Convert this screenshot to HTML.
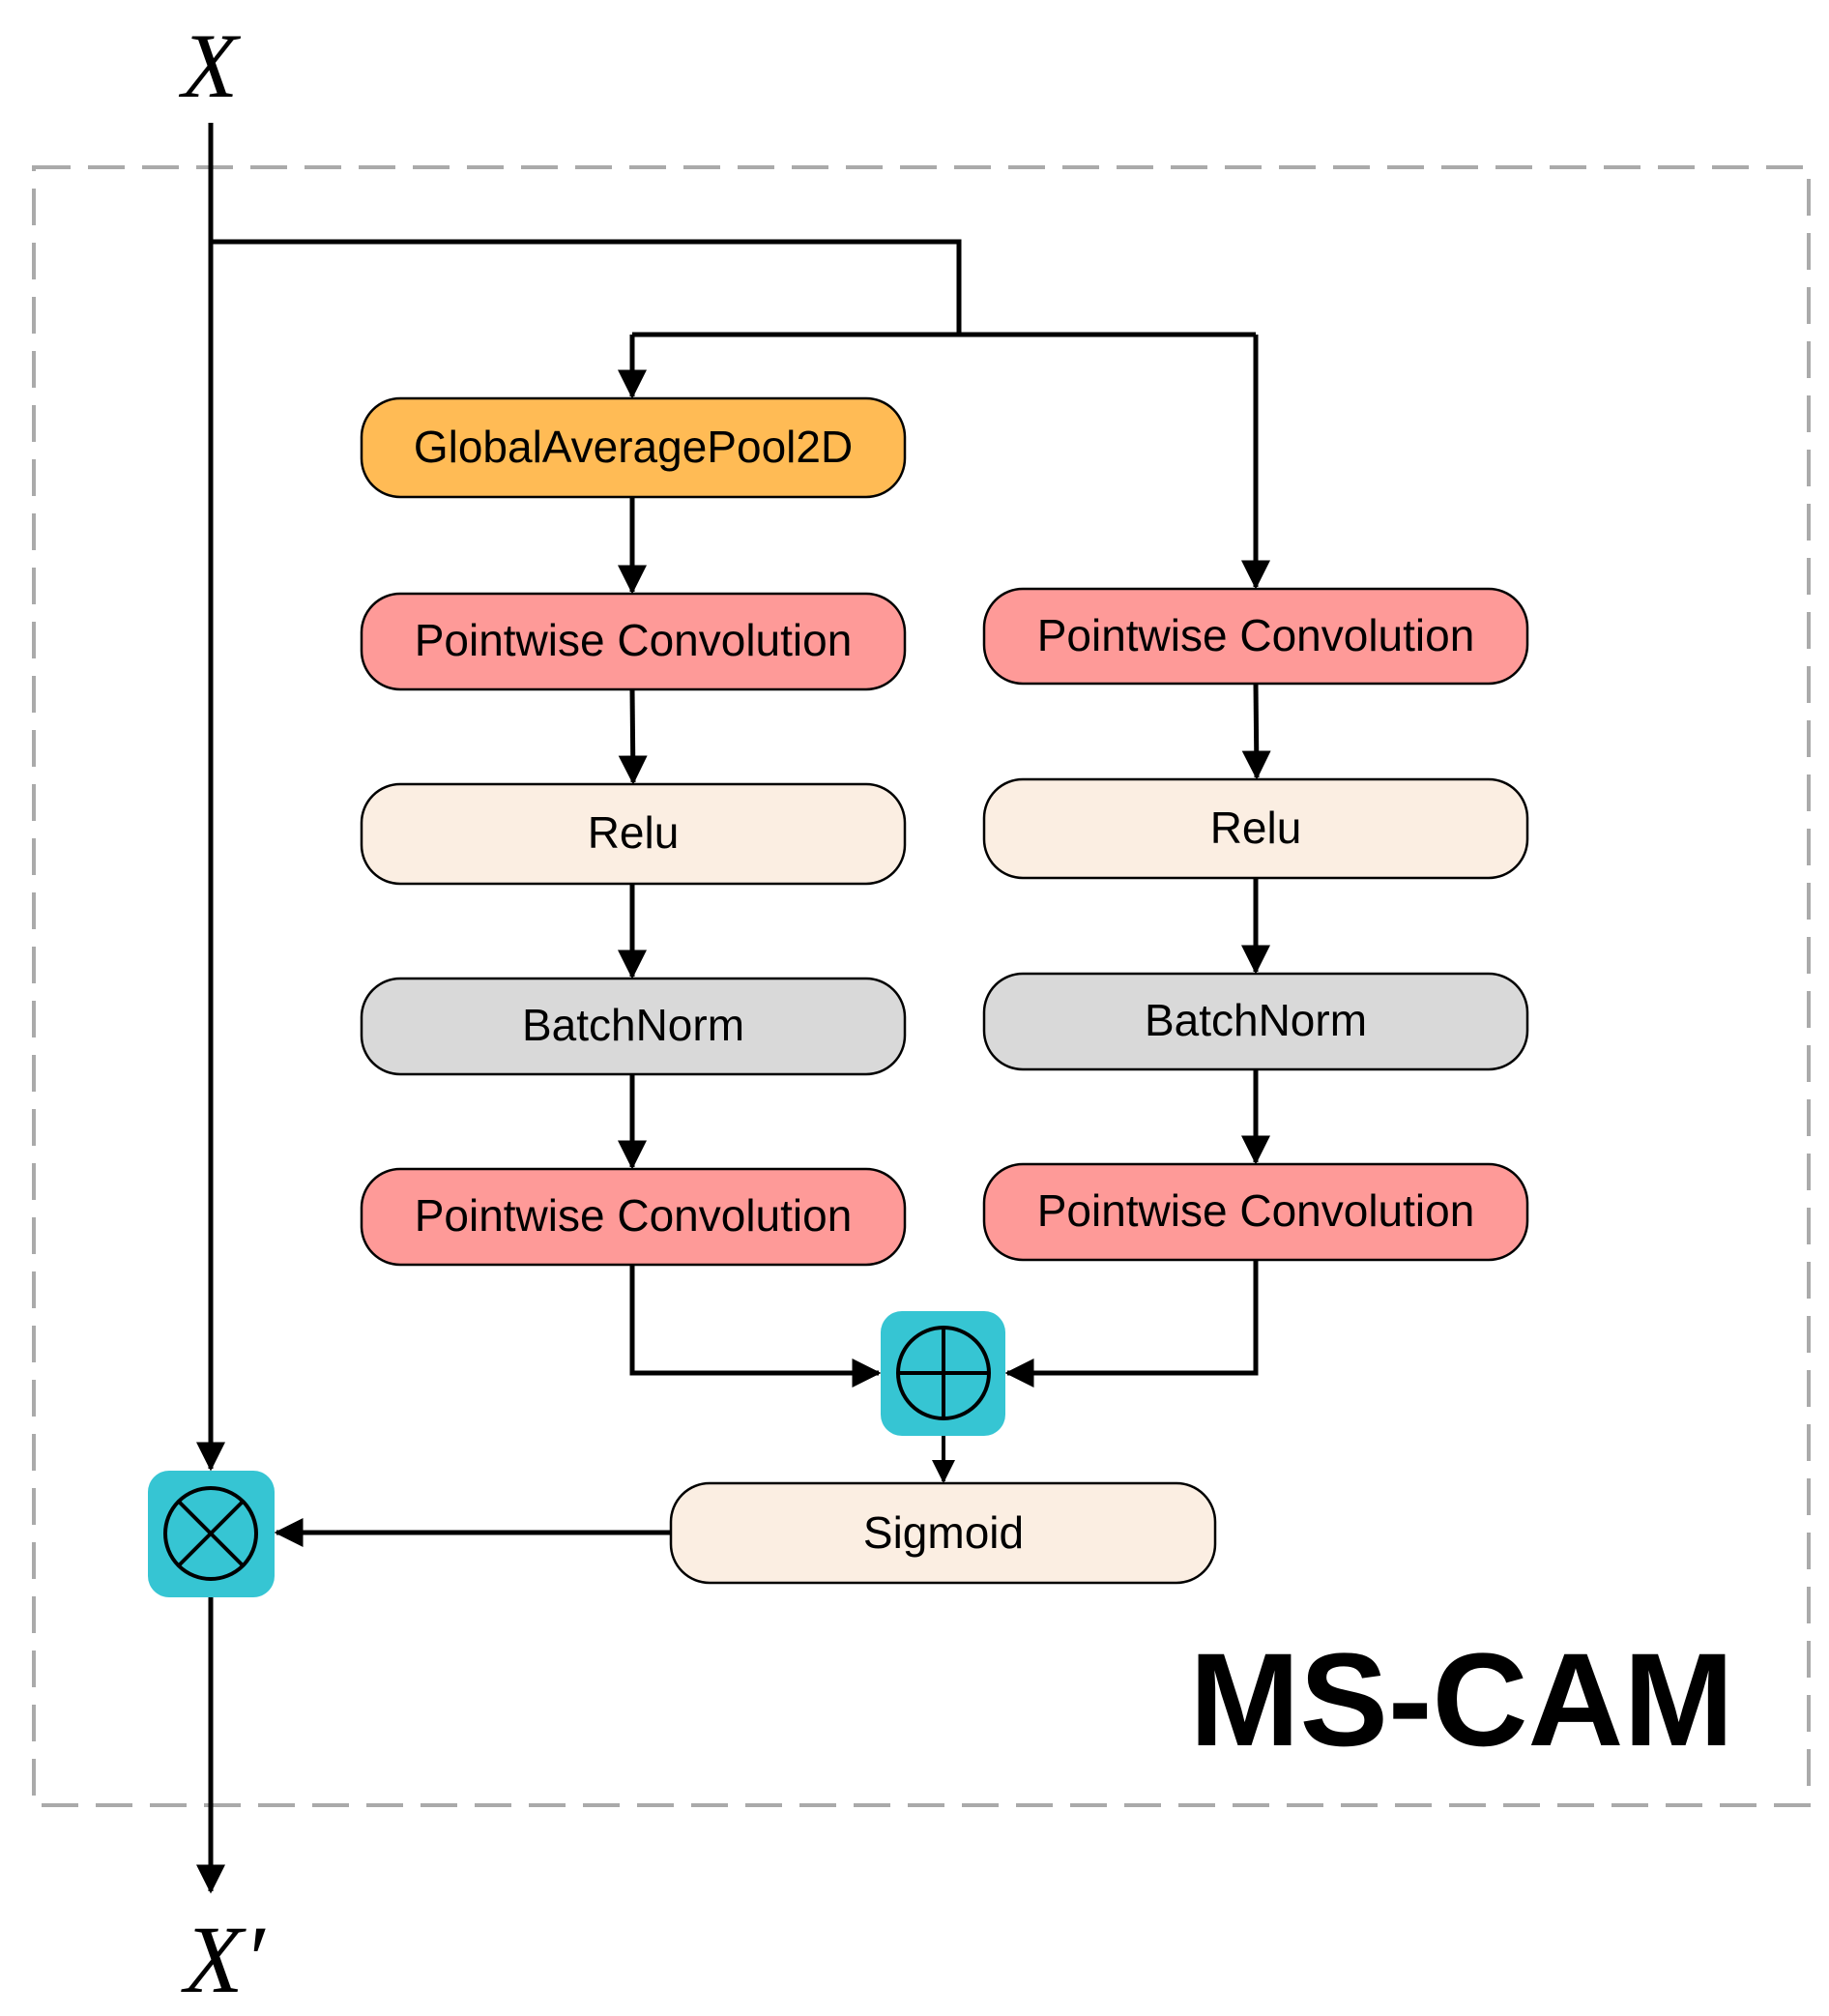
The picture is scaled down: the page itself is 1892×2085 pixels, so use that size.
<!DOCTYPE html>
<html><head><meta charset="utf-8"><style>html,body{margin:0;padding:0;background:#fff}svg{display:block}</style></head>
<body>
<svg width="1892" height="2085" viewBox="0 0 1892 2085" xmlns="http://www.w3.org/2000/svg">
<defs>
<marker id="a" markerWidth="6" markerHeight="6" refX="5.5" refY="3" orient="auto" markerUnits="strokeWidth">
<path d="M0,0 L6,3 L0,6 z" fill="#000"/>
</marker>
</defs>
<rect x="35" y="173" width="1836" height="1694" fill="none" stroke="#aaa" stroke-width="4" stroke-dasharray="38,18"/>
<text x="217" y="100" font-family="Liberation Serif, serif" font-style="italic" font-size="95" text-anchor="middle">X</text>
<text x="232" y="2060" font-family="Liberation Serif, serif" font-style="italic" font-size="100" text-anchor="middle">X′</text>
<g stroke="#000" stroke-width="5" fill="none">
<line x1="218" y1="127" x2="218" y2="1519" marker-end="url(#a)"/>
<line x1="218" y1="1652" x2="218" y2="1956" marker-end="url(#a)"/>
<polyline points="218,250 992,250 992,346"/>
<polyline points="654,346 1299,346"/>
<line x1="654" y1="346" x2="654" y2="410" marker-end="url(#a)"/>
<line x1="1299" y1="346" x2="1299" y2="607" marker-end="url(#a)"/>
<line x1="654" y1="514" x2="654" y2="612" marker-end="url(#a)"/>
<line x1="654" y1="713" x2="655" y2="809" marker-end="url(#a)"/>
<line x1="654" y1="914" x2="654" y2="1010" marker-end="url(#a)"/>
<line x1="654" y1="1111" x2="654" y2="1207" marker-end="url(#a)"/>
<line x1="1299" y1="707" x2="1300" y2="804" marker-end="url(#a)"/>
<line x1="1299" y1="908" x2="1299" y2="1005" marker-end="url(#a)"/>
<line x1="1299" y1="1106" x2="1299" y2="1202" marker-end="url(#a)"/>
<polyline points="654,1308 654,1420 909,1420" marker-end="url(#a)"/>
<polyline points="1299,1303 1299,1420 1042,1420" marker-end="url(#a)"/>
<line x1="976" y1="1485" x2="976" y2="1532" stroke-width="4" marker-end="url(#a)"/>
<line x1="694" y1="1585" x2="286" y2="1585" marker-end="url(#a)"/>
</g>
<g stroke="#000" stroke-width="2.5" font-family="Liberation Sans, sans-serif" font-size="46" text-anchor="middle">
<rect x="374" y="412" width="562" height="102" rx="40" fill="#ffbb55"/>
<rect x="374" y="614" width="562" height="99" rx="40" fill="#fe9a98"/>
<rect x="374" y="811" width="562" height="103" rx="40" fill="#fbeee2"/>
<rect x="374" y="1012" width="562" height="99" rx="40" fill="#d9d9d9"/>
<rect x="374" y="1209" width="562" height="99" rx="40" fill="#fe9a98"/>
<rect x="1018" y="609" width="562" height="98" rx="40" fill="#fe9a98"/>
<rect x="1018" y="806" width="562" height="102" rx="40" fill="#fbeee2"/>
<rect x="1018" y="1007" width="562" height="99" rx="40" fill="#d9d9d9"/>
<rect x="1018" y="1204" width="562" height="99" rx="40" fill="#fe9a98"/>
<rect x="694" y="1534" width="563" height="103" rx="40" fill="#fbeee2"/>
<g stroke="none" fill="#000">
<text x="655" y="478">GlobalAveragePool2D</text>
<text x="655" y="678">Pointwise Convolution</text>
<text x="655" y="877">Relu</text>
<text x="655" y="1076">BatchNorm</text>
<text x="655" y="1273">Pointwise Convolution</text>
<text x="1299" y="673">Pointwise Convolution</text>
<text x="1299" y="872">Relu</text>
<text x="1299" y="1071">BatchNorm</text>
<text x="1299" y="1268">Pointwise Convolution</text>
<text x="976" y="1601">Sigmoid</text>
</g>
</g>
<rect x="911" y="1356" width="129" height="129" rx="22" fill="#36c5d3"/>
<g stroke="#000" stroke-width="4" fill="none">
<circle cx="976" cy="1420" r="47"/>
<line x1="929" y1="1420" x2="1023" y2="1420"/>
<line x1="976" y1="1373" x2="976" y2="1467"/>
</g>
<rect x="153" y="1521" width="131" height="131" rx="22" fill="#36c5d3"/>
<g stroke="#000" stroke-width="4" fill="none">
<circle cx="218" cy="1586" r="47"/>
<line x1="185" y1="1553" x2="251" y2="1619"/>
<line x1="251" y1="1553" x2="185" y2="1619"/>
</g>
<text x="1512" y="1805" font-family="Liberation Sans, sans-serif" font-weight="bold" font-size="137" text-anchor="middle">MS-CAM</text>
</svg>
</body></html>
